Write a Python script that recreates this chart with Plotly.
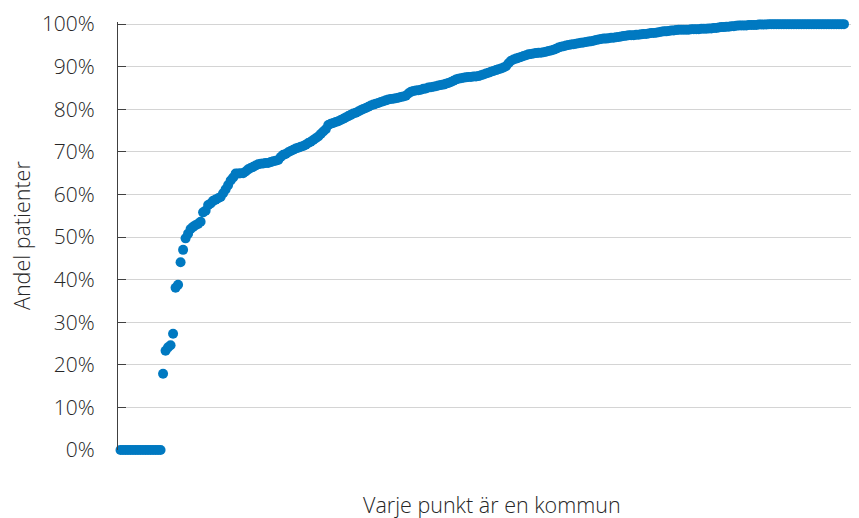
import plotly.graph_objects as go

# Share of patients per municipality (sorted ascending), one value per kommun
andel = [
    0.0, 0.0, 0.0, 0.0, 0.0, 0.0, 0.0, 0.0, 0.0, 0.0,
    0.0, 0.0, 0.0, 0.0, 0.0, 0.0, 0.0, 17.9, 23.3, 24.1,
    24.6, 27.3, 38.1, 38.8, 44.1, 47.0, 49.7, 50.8, 51.9, 52.4,
    52.8, 53.1, 53.6, 55.8, 56.2, 57.5, 57.9, 58.5, 58.8, 59.1,
    59.4, 60.3, 61.2, 62.2, 63.3, 64.0, 64.9, 64.9, 65.0, 65.0,
    65.4, 65.9, 66.2, 66.5, 66.8, 67.1, 67.2, 67.3, 67.4, 67.4,
    67.6, 67.8, 67.9, 68.1, 68.8, 69.3, 69.5, 69.9, 70.2, 70.5,
    70.8, 71.0, 71.2, 71.4, 71.7, 72.1, 72.4, 72.8, 73.2, 73.6,
    74.2, 74.8, 75.3, 76.3, 76.6, 76.8, 77.0, 77.2, 77.5, 77.8,
    78.1, 78.4, 78.7, 79.0, 79.2, 79.5, 79.8, 80.1, 80.3, 80.6,
    80.9, 81.1, 81.3, 81.5, 81.7, 81.9, 82.1, 82.3, 82.4, 82.5,
    82.6, 82.7, 82.9, 83.0, 83.2, 83.7, 84.1, 84.3, 84.4, 84.5,
    84.6, 84.8, 84.9, 85.1, 85.2, 85.3, 85.4, 85.6, 85.7, 85.8,
    86.0, 86.2, 86.4, 86.7, 87.0, 87.2, 87.3, 87.4, 87.5, 87.6,
    87.6, 87.7, 87.7, 87.8, 88.0, 88.2, 88.4, 88.6, 88.8, 89.0,
    89.2, 89.4, 89.6, 89.8, 90.1, 90.8, 91.4, 91.7, 91.9, 92.1,
    92.3, 92.5, 92.7, 92.9, 93.0, 93.1, 93.2, 93.3, 93.3, 93.4,
    93.5, 93.7, 93.8, 94.0, 94.2, 94.5, 94.7, 94.8, 95.0, 95.1,
    95.2, 95.3, 95.4, 95.5, 95.6, 95.7, 95.8, 95.9, 96.0, 96.1,
    96.3, 96.4, 96.5, 96.6, 96.6, 96.7, 96.8, 96.8, 96.9, 97.0,
    97.1, 97.2, 97.3, 97.4, 97.4, 97.4, 97.5, 97.5, 97.6, 97.7,
    97.7, 97.8, 97.9, 97.9, 98.0, 98.1, 98.2, 98.3, 98.3, 98.4,
    98.5, 98.5, 98.6, 98.7, 98.7, 98.7, 98.7, 98.7, 98.8, 98.8,
    98.8, 98.8, 98.9, 98.9, 98.9, 99.0, 99.0, 99.1, 99.1, 99.2,
    99.3, 99.3, 99.4, 99.4, 99.5, 99.5, 99.6, 99.7, 99.7, 99.7,
    99.7, 99.8, 99.8, 99.8, 99.8, 99.9, 99.9, 99.9, 99.9, 100.0,
    100.0, 100.0, 100.0, 100.0, 100.0, 100.0, 100.0, 100.0, 100.0, 100.0,
    100.0, 100.0, 100.0, 100.0, 100.0, 100.0, 100.0, 100.0, 100.0, 100.0,
    100.0, 100.0, 100.0, 100.0, 100.0, 100.0, 100.0, 100.0, 100.0, 100.0,
]
kommun = list(range(1, len(andel) + 1))
y_ticks = [0, 10, 20, 30, 40, 50, 60, 70, 80, 90, 100]
y_tick_labels = ["0%", "10%", "20%", "30%", "40%", "50%", "60%", "70%", "80%", "90%", "100%"]

text_color = "#262626"
font_family = "Open Sans"
font_size = 21
title_size = 21.5
font_weight = 300

fig = go.Figure(
    go.Scatter(
        x=kommun,
        y=andel,
        mode="markers",
        marker=dict(size=10, color="#0079C1", line=dict(width=0)),
        cliponaxis=False,
        hoverinfo="y",
    )
)

# The page body adds an 8px offset, so the figure is sized to fit the window.
fig.update_layout(
    width=851,
    height=510,
    margin=dict(l=110, r=1, t=11, b=68),
    paper_bgcolor="white",
    plot_bgcolor="white",
    showlegend=False,
    font=dict(family=font_family, size=font_size, color=text_color, weight=font_weight),
    xaxis=dict(
        range=[0, 295.6],
        showgrid=False,
        zeroline=False,
        showline=False,
        showticklabels=False,
        ticks="",
        fixedrange=True,
    ),
    yaxis=dict(
        range=[0, 100.5],
        tickvals=y_ticks,
        ticktext=y_tick_labels,
        showgrid=True,
        gridcolor="#d4d4d4",
        gridwidth=1,
        zeroline=False,
        showline=True,
        linecolor="#404040",
        linewidth=1,
        ticks="inside",
        ticklen=8,
        tickcolor="#404040",
        tickwidth=1,
        ticklabelstandoff=18,
        ticklabeloverflow="allow",
        tickfont=dict(family=font_family, size=font_size, color=text_color, weight=font_weight),
        fixedrange=True,
    ),
    annotations=[
        dict(
            text="Varje punkt är en kommun",
            xref="paper", yref="paper",
            x=0.506, y=0, yshift=-54,
            xanchor="center", yanchor="middle",
            showarrow=False,
            font=dict(family=font_family, size=title_size, color=text_color, weight=font_weight),
        ),
        dict(
            text="Andel patienter",
            xref="paper", yref="paper",
            x=0, xshift=-97, y=0.5,
            xanchor="center", yanchor="middle",
            textangle=-90,
            showarrow=False,
            font=dict(family=font_family, size=title_size, color=text_color, weight=font_weight),
        ),
    ],
)

fig.write_html("out.html")
